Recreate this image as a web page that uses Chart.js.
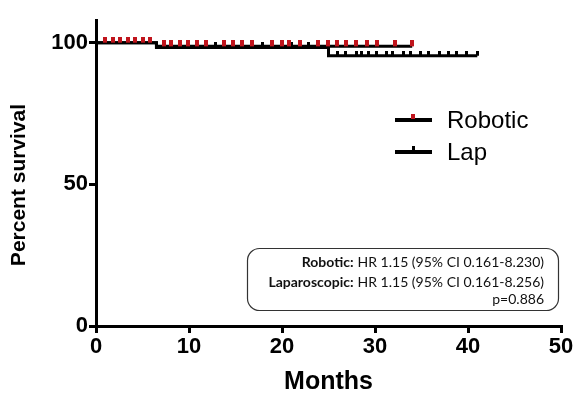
<!DOCTYPE html>
<html>
<head>
<meta charset="utf-8">
<script src="https://cdn.jsdelivr.net/npm/chart.js@4.4.0/dist/chart.umd.min.js"></script>
<style>
  html, body { margin: 0; padding: 0; background: #fff; }
  #wrap { width: 576px; height: 400px; position: relative; }
</style>
</head>
<body>
<div id="wrap"><canvas id="km" width="576" height="400"></canvas></div>
<script>
// Kaplan-Meier steps (months, % survival)
const groups = ["Robotic", "Lap"];
const roboticTimes = [0, 6.5, 34];
const roboticSurv = [100, 98.7, 98.7];
const roboticCensored = [1, 1.8, 2.6, 3.4, 4.2, 5, 5.8, 7.3, 8.1, 9, 9.9, 10.9, 11.8, 13.8, 14.7, 15.7, 16.8,
  18.9, 20, 20.8, 21.9, 23.9, 24.9, 25.9, 26.9, 28, 29.1, 30.2, 32.1, 34];
const lapTimes = [0, 6.5, 25, 41];
const lapSurv = [100, 98.3, 95.4, 95.4];
const lapCensored = [12.9, 17.9, 19, 21, 22.9, 26, 26.8, 28, 28.6, 29.3, 30.2, 31.2, 31.9, 33.1, 33.8, 34.9,
  35.8, 36.9, 37.9, 38.8, 39.8, 41];
const xTicks = [0, 10, 20, 30, 40, 50];
const yTicks = [0, 50, 100];
const xTitle = "Months";
const yTitle = "Percent survival";
const statLabels = ["Robotic:", "Laparoscopic:", ""];
const statTexts = ["HR 1.15 (95% CI 0.161-8.230)", "HR 1.15 (95% CI 0.161-8.256)", "p=0.886"];

const RED = "#c0141c";
const AXIS_FONT = "'Liberation Sans', Arial, sans-serif";

function survAt(times, surv, t) {
  let s = surv[0];
  for (let i = 0; i < times.length; i++) if (times[i] <= t) s = surv[i];
  return s;
}

// small tick mark sitting on top of the line
function tickMark(w, h, color) {
  const c = document.createElement("canvas");
  c.width = w; c.height = h * 2;
  const g = c.getContext("2d");
  g.fillStyle = color;
  g.fillRect(0, 0, w, h);
  return c;
}
const redTick = tickMark(4, 6, RED);
const blackTick = tickMark(3, 5, "#000");

const toPts = (xs, ys) => xs.map((x, i) => ({ x: x, y: ys[i] }));

const extras = {
  id: "extras",
  afterDraw(chart) {
    const ctx = chart.ctx;
    ctx.save();
    // y title
    ctx.save();
    ctx.translate(19, 185);
    ctx.rotate(-Math.PI / 2);
    ctx.fillStyle = "#000";
    ctx.font = "bold 21px " + AXIS_FONT;
    ctx.textAlign = "center";
    ctx.textBaseline = "middle";
    ctx.fillText(yTitle, 0, 0);
    ctx.restore();
    // legend
    const marks = [RED, "#000"];
    const rows = [120, 152];
    groups.forEach((g, i) => {
      const y = rows[i];
      ctx.fillStyle = "#000";
      ctx.fillRect(395, y - 2, 37, 4);
      ctx.fillStyle = marks[i];
      ctx.fillRect(i === 0 ? 411 : 412, y - 6, i === 0 ? 4 : 3, 5);
      ctx.fillStyle = "#000";
      ctx.font = "24px " + AXIS_FONT;
      ctx.textBaseline = "middle";
      ctx.textAlign = "left";
      ctx.fillText(g, 447, y + 1);
    });
    // stats box
    ctx.beginPath();
    ctx.roundRect(247.5, 248.5, 311, 62, 12);
    ctx.strokeStyle = "#333";
    ctx.lineWidth = 1.2;
    ctx.stroke();
    const lineY = [262, 282, 299];
    statTexts.forEach((t, i) => {
      ctx.textBaseline = "middle";
      ctx.textAlign = "right";
      ctx.font = "14px Lato, sans-serif";
      ctx.fillStyle = "#111";
      ctx.fillText(t, 544, lineY[i]);
      const w = ctx.measureText(t).width;
      if (statLabels[i]) {
        ctx.font = "bold 14px Lato, sans-serif";
        ctx.fillText(statLabels[i], 544 - w - 4, lineY[i]);
      }
    });
    ctx.restore();
  }
};

new Chart(document.getElementById("km"), {
  type: "scatter",
  data: {
    datasets: [
      {
        label: "Robotic censored",
        data: roboticCensored.map(t => ({ x: t, y: survAt(roboticTimes, roboticSurv, t) })),
        pointStyle: redTick,
        pointRadius: 4
      },
      {
        label: "Lap censored",
        data: lapCensored.map(t => ({ x: t, y: survAt(lapTimes, lapSurv, t) })),
        pointStyle: blackTick,
        pointRadius: 4
      },
      {
        label: groups[0],
        data: toPts(roboticTimes, roboticSurv),
        showLine: true,
        stepped: true,
        borderColor: "#000",
        borderWidth: 3,
        pointRadius: 0
      },
      {
        label: groups[1],
        data: toPts(lapTimes, lapSurv),
        showLine: true,
        stepped: true,
        borderColor: "#000",
        borderWidth: 3,
        pointRadius: 0
      }
    ]
  },
  options: {
    responsive: false,
    animation: false,
    devicePixelRatio: 1,
    layout: { padding: { left: 0, right: 15, top: 20, bottom: 0 } },
    plugins: { legend: { display: false }, tooltip: { enabled: false } },
    scales: {
      x: {
        type: "linear",
        min: 0, max: 50,
        afterBuildTicks: s => { s.ticks = xTicks.map(v => ({ value: v })); },
        afterFit: s => { s.height = 74; },
        grid: { drawOnChartArea: false, drawTicks: true, tickLength: 7, color: "#000", lineWidth: 3 },
        border: { display: true, color: "#000", width: 3 },
        ticks: { color: "#000", padding: 1, maxRotation: 0, font: { family: AXIS_FONT, size: 22, weight: "bold" } },
        title: { display: true, text: xTitle, color: "#000", padding: { top: 0, bottom: 3 },
          font: { family: AXIS_FONT, size: 25, weight: "bold" } }
      },
      y: {
        min: 0, max: 108,
        afterBuildTicks: s => { s.ticks = yTicks.map(v => ({ value: v })); },
        afterFit: s => { s.width = 96; },
        grid: { drawOnChartArea: false, drawTicks: true, tickLength: 7, color: "#000", lineWidth: 3 },
        border: { display: true, color: "#000", width: 3 },
        ticks: { color: "#000", padding: 1, font: { family: AXIS_FONT, size: 22, weight: "bold" } },
        title: { display: false }
      }
    }
  },
  plugins: [extras]
});
</script>
</body>
</html>
